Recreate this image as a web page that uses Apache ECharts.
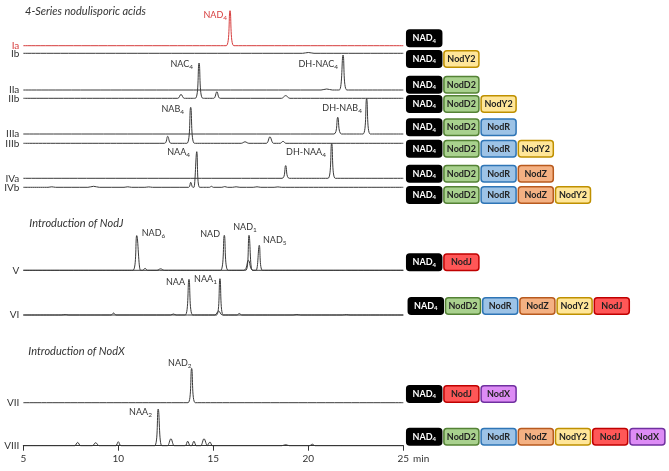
<!DOCTYPE html>
<html><head><meta charset="utf-8">
<script src="https://cdn.jsdelivr.net/npm/echarts@6/dist/echarts.min.js"></script>
<style>html,body{margin:0;padding:0;background:#fff}#c{width:669px;height:471px}</style>
</head><body><div id="c"></div>
<script>
// ---------------- DATA ----------------
const traceNames = ['Ia','Ib','IIa','IIb','IIIa','IIIb','IVa','IVb','V','VI','VII','VIII'];
const xTicks = [5, 10, 15, 20, 25];
// peaks: [retention time (min), height (signal units), half base width (min)]
const peaksIa   = [[15.88,35,0.2]];
const peaksIb   = [[20.0,0.8,0.3]];
const peaksIIa  = [[20.97,1,0.3],[21.83,35,0.2]];
const peaksIIb  = [[13.3,4,0.17],[14.25,35.3,0.2],[15.19,6.6,0.17],[18.81,2.7,0.22]];
const peaksIIIa = [[21.55,16.7,0.2],[23.07,35.3,0.19]];
const peaksIIIb = [[12.6,7,0.17],[13.81,36,0.2],[16.67,1.5,0.2],[17.98,6.5,0.19],[18.67,2,0.15]];
const peaksIVa  = [[18.81,12.7,0.19],[21.23,35,0.19]];
const peaksIVb  = [[6.5,0.5,0.2],[8.7,1,0.3],[10.5,0.5,0.2],[11.6,0.4,0.2],[13.81,5,0.11],[14.13,35.6,0.15],[14.9,1,0.1],[15.6,0.7,0.15],[16.2,0.5,0.2],[17.3,0.5,0.2],[18.4,0.4,0.2]];
const peaksV    = [[10.97,34.7,0.2],[11.41,2,0.13],[12.23,1.5,0.2],[15.58,35,0.2],[16.88,35,0.17],[17.42,25,0.17]];
const peaksVb   = [[16.85,10,0.25]];
const peaksVI   = [[7.2,0.4,0.2],[9.75,2,0.13],[12.9,1,0.15],[13.72,35.7,0.2],[15.35,36.3,0.18],[16.37,1.5,0.13],[19.4,0.5,0.2],[22.0,0.4,0.2]];
const peaksVIb  = [[15.28,4,0.2]];
const peaksVII  = [[13.86,34.3,0.19]];
const peaksVIII = [[7.86,3.3,0.16],[8.81,3,0.18],[10.0,4,0.14],[12.1,36.7,0.19],[12.77,7,0.19],[13.65,4.5,0.13],[13.98,4.5,0.13],[14.51,7,0.18],[14.83,3.7,0.13],[18.81,1,0.2],[20.21,1.5,0.15]];

// peak annotations: [trace, time, height, label]
const peakLabels = [
  ['Ia',15.88,35,'NAD{s|4}'],
  ['IIb',14.25,35.3,'NAC{s|4}'],
  ['IIa',21.83,35,'DH-NAC{s|4}'],
  ['IIIb',13.81,36,'NAB{s|4}'],
  ['IIIa',23.07,35.3,'DH-NAB{s|4}'],
  ['IVb',14.13,35.6,'NAA{s|4}'],
  ['IVa',21.23,35,'DH-NAA{s|4}'],
  ['V',10.97,34.7,'NAD{s|6}'],
  ['V',15.58,35,'NAD'],
  ['V',16.88,35,'NAD{s|1}'],
  ['V',17.42,25,'NAD{s|5}'],
  ['VI',13.72,35.7,'NAA'],
  ['VI',15.35,36.3,'NAA{s|1}'],
  ['VII',13.86,34.3,'NAD{s|2}'],
  ['VIII',12.1,36.7,'NAA{s|2}']
];

const sectionTitles = ['4-Series nodulisporic acids','Introduction of NodJ','Introduction of NodX'];

// gene cassettes per trace
const cassettes = [
  ['NAD4'],
  ['NAD4','NodY2'],
  ['NAD4','NodD2'],
  ['NAD4','NodD2','NodY2'],
  ['NAD4','NodD2','NodR'],
  ['NAD4','NodD2','NodR','NodY2'],
  ['NAD4','NodD2','NodR','NodZ'],
  ['NAD4','NodD2','NodR','NodZ','NodY2'],
  ['NAD4','NodJ'],
  ['NAD4','NodD2','NodR','NodZ','NodY2','NodJ'],
  ['NAD4','NodJ','NodX'],
  ['NAD4','NodD2','NodR','NodZ','NodY2','NodJ','NodX']
];

// ---------------- LAYOUT / STYLE ----------------
const FONT = 'Lato, "Open Sans", sans-serif';
const baseY = [45.7, 53.3, 90, 98.3, 134, 143.3, 178.3, 187.3, 270.3, 315, 402.7, 445.7];
const GL = 23.3, GW = 380, GH = 40;
const RED = '#d63c3c', GRAY = '#3a3a3a';
const labelLayout = [
  ['right',-3,4,RED],['right',-6,1],['right',-5,9],['right',-6.7,2],['right',-4.7,9.3],
  ['right',-6.7,0.5],['right',-5.7,9],['left',5,-3],['right',-4.3,-1],['center',-4,-8],
  ['left',3.7,-5],['right',-4,2.4],['right',-3,0],['right',0,-5],['right',-6.3,2.7]
];
const boxRowY = [38.3, 59, 84.7, 104, 127.3, 148.7, 173.7, 195, 262.3, 306, 394, 436.7];
const boxRowX = [406.7,406.7,406.7,406.7,406.7,406.7,406.7,406.7,406.7,408.3,406.7,406.7];
const BOXW = 35, BOXH = 16.5, PITCH = 37.2;
const geneStyle = {
  NAD4:  {fill:'#000000', stroke:'#000000', text:'#ffffff', label:'NAD{s|4}'},
  NodY2: {fill:'#ffe699', stroke:'#bf9000', text:'#222', label:'NodY2'},
  NodD2: {fill:'#a9d18e', stroke:'#548235', text:'#222', label:'NodD2'},
  NodR:  {fill:'#9dc3e6', stroke:'#2e75b6', text:'#222', label:'NodR'},
  NodZ:  {fill:'#f4b183', stroke:'#b85a1e', text:'#222', label:'NodZ'},
  NodJ:  {fill:'#ff5757', stroke:'#c00000', text:'#222', label:'NodJ'},
  NodX:  {fill:'#dd8cf5', stroke:'#7030a0', text:'#222', label:'NodX'}
};

// ---------------- BUILD ----------------
function tracePoints(peaks){
  const pts = [[xTicks[0],0]];
  peaks.slice().sort((a,b)=>a[0]-b[0]).forEach(p=>{
    pts.push([p[0]-p[2],0]); pts.push([p[0],p[1]]); pts.push([p[0]+p[2],0]);
  });
  pts.push([xTicks[xTicks.length-1],0]);
  return pts;
}
const peakSets = [peaksIa,peaksIb,peaksIIa,peaksIIb,peaksIIIa,peaksIIIb,peaksIVa,peaksIVb,peaksV,peaksVI,peaksVII,peaksVIII];

const grids = [], xAxes = [], yAxes = [], series = [];
const richSub = {s:{fontSize:6.5, verticalAlign:'bottom', lineHeight:13, padding:[0,0,0,0]}};
traceNames.forEach((name,i)=>{
  grids.push({left:GL, width:GW, top:baseY[i]-GH, height:GH});
  const last = i === traceNames.length-1;
  xAxes.push({type:'value', gridIndex:i, min:xTicks[0], max:xTicks[xTicks.length-1], interval:5, show:last,
    offset: last ? 1.6 : 0,
    axisLine:{show:true, lineStyle:{color:'#333', width:1}},
    axisTick:{show:true, length:5, lineStyle:{color:'#333'}},
    axisLabel:{show:true, margin:6, color:'#333', fontSize:10, fontFamily:FONT},
    splitLine:{show:false}});
  const isRed = i===0;
  yAxes.push({type:'value', gridIndex:i, min:0, max:GH, interval:GH,
    axisLine:{show:false}, axisTick:{show:false}, splitLine:{show:false},
    axisLabel:{show:true, margin:4, fontSize:10, fontFamily:FONT, color:isRed?RED:'#333',
      formatter:(v)=> v===0 ? name : ''}});
  const md = [];
  peakLabels.forEach((pl,k)=>{
    if(pl[0]!==name) return;
    const L = labelLayout[k];
    md.push({coord:[pl[1],pl[2]], symbol:'circle', symbolSize:0.01,
      label:{show:true, position:[L[1],L[2]], align:L[0], verticalAlign:'middle',
        color:L[3]||'#333', fontSize:9, fontFamily:FONT, lineHeight:13,
        formatter:()=>pl[3], rich:richSub}});
  });
  series.push({type:'line', name, xAxisIndex:i, yAxisIndex:i, data:tracePoints(peakSets[i]),
    symbol:'none', smooth:0.35, clip:false, silent:true, animation:false,
    lineStyle:{color:isRed?RED:GRAY, width:1},
    markPoint: md.length ? {silent:true, animation:false, data:md} : undefined});
});
// overlapping peak outlines drawn in the same panel
[[8,peaksVb],[9,peaksVIb]].forEach(([gi,pk])=>{
  series.push({type:'line', name:traceNames[gi]+'-2', xAxisIndex:gi, yAxisIndex:gi, data:tracePoints(pk),
    symbol:'none', smooth:0.35, clip:false, silent:true, animation:false, lineStyle:{color:GRAY, width:1}});
});

const graphic = [];
// section titles
[[25,11],[29.3,223.5],[28.3,351.7]].forEach((p,k)=>{
  graphic.push({type:'text', x:p[0], y:p[1], silent:true,
    style:{text:sectionTitles[k], fill:'#333', font:'italic 11px '+FONT, align:'left', verticalAlign:'middle', textAlign:'left', textVerticalAlign:'middle'}});
});
graphic.push({type:'text', x:413, y:459, silent:true,
  style:{text:'min', fill:'#333', font:'10px '+FONT, align:'left', verticalAlign:'middle', textAlign:'left', textVerticalAlign:'middle'}});
// cassette boxes
cassettes.forEach((row,r)=>{
  row.forEach((g,j)=>{
    const st = geneStyle[g];
    const x = boxRowX[r] + j*PITCH, y = boxRowY[r] - BOXH/2;
    graphic.push({type:'rect', silent:true, shape:{x, y, width:BOXW, height:BOXH, r:3},
      style:{fill:st.fill, stroke:st.stroke, lineWidth:1.5}});
    graphic.push({type:'text', silent:true, x:x+BOXW/2, y:boxRowY[r],
      style:{text:st.label, fill:st.text, font:'bold 9px '+FONT, align:'center', verticalAlign:'middle',
        textAlign:'center', textVerticalAlign:'middle',
        rich:{s:{fontSize:6, fontWeight:'bold', fill:st.text, verticalAlign:'bottom', lineHeight:11, fontFamily:FONT}}}});
  });
});

const chart = echarts.init(document.getElementById('c'), null, {renderer:'canvas'});
chart.setOption({animation:false, backgroundColor:'#fff', grid:grids, xAxis:xAxes, yAxis:yAxes, series, graphic});
</script></body></html>
